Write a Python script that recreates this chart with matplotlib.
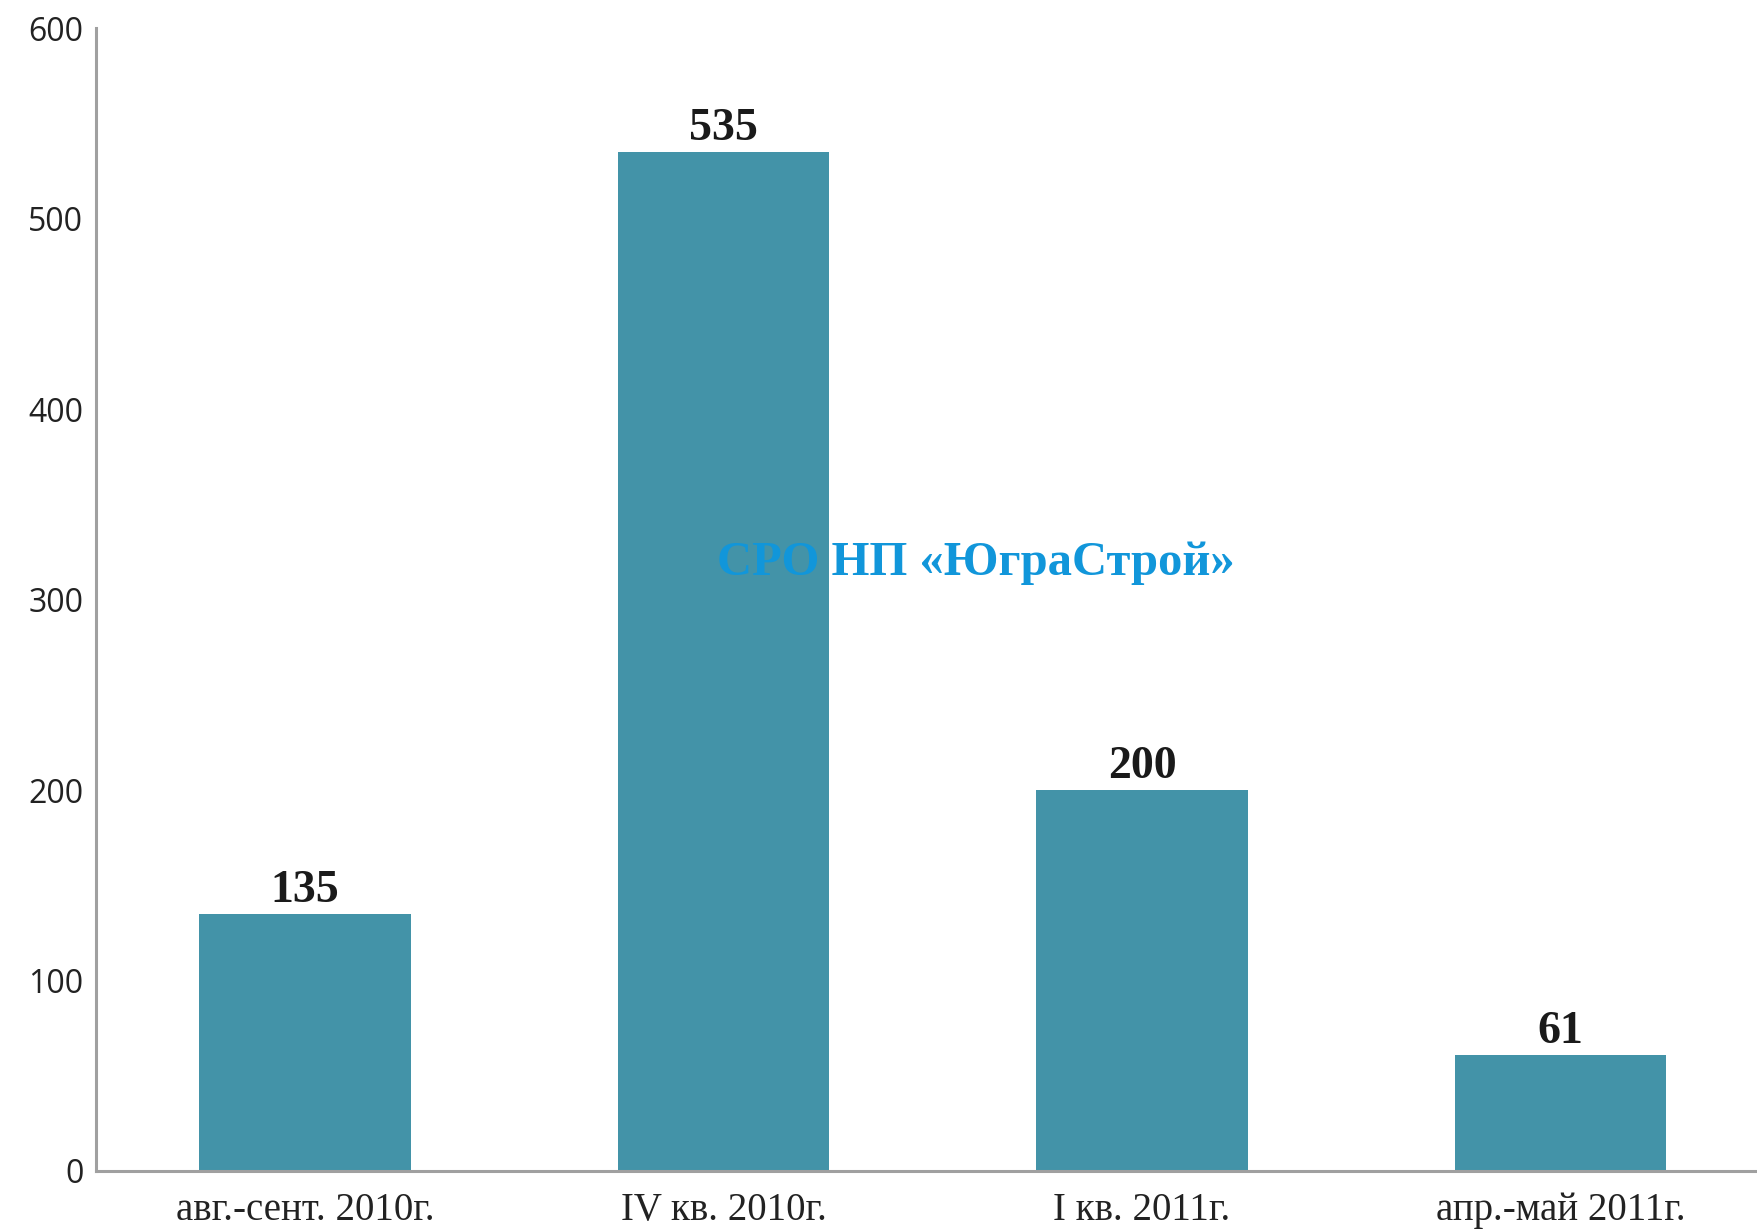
import matplotlib.pyplot as plt

# Data
periods = ["авг.-сент. 2010г.", "IV кв. 2010г.", "I кв. 2011г.", "апр.-май 2011г."]
counts = [135, 535, 200, 61]
y_ticks = [0, 100, 200, 300, 400, 500, 600]

bar_color = "#4393a8"
axis_color = "#a0a0a0"

fig = plt.figure(figsize=(17.57, 12.29), dpi=100)
ax = fig.add_axes([0.0546, 0.0472, 0.9454, 0.9300])

x = list(range(len(periods)))
ax.bar(x, counts, width=0.505, color=bar_color)

# value labels above bars
for xi, v in zip(x, counts):
    ax.text(xi, v + 1, str(v), ha="center", va="bottom",
            family="Liberation Serif", fontweight="bold", fontsize=33, color="#1a1a1a")

ax.set_xlim(-0.5, 3.47)
ax.set_ylim(0, 600)
ax.set_yticks(y_ticks)
ax.set_yticklabels([str(t) for t in y_ticks], family="Open Sans", fontsize=23, color="#222222")
ax.set_xticks(x)
ax.set_xticklabels(periods, family="Liberation Serif", fontsize=28, color="#222222")
ax.tick_params(axis="both", length=0)
ax.tick_params(axis="y", pad=9)
ax.tick_params(axis="x", pad=15)

for side in ["top", "right"]:
    ax.spines[side].set_visible(False)
for side in ["left", "bottom"]:
    ax.spines[side].set_color(axis_color)
    ax.spines[side].set_linewidth(2.2)

# watermark
ax.text(0.530, 0.532, "СРО НП «ЮграСтрой»", transform=ax.transAxes,
        ha="center", va="center", family="Liberation Serif", fontweight="bold",
        fontsize=35, color="#1196da")

fig.savefig("out.png", dpi=100)
